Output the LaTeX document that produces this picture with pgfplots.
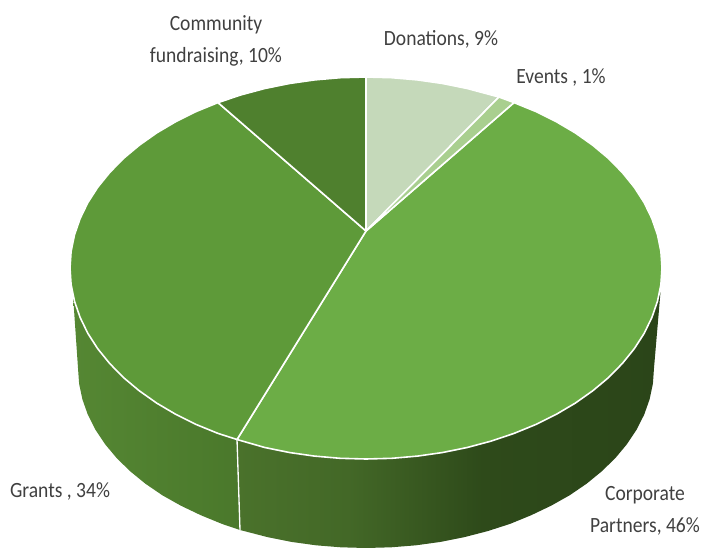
\documentclass[border=0pt]{standalone}
\usepackage{pgfplots}
\pgfplotsset{compat=1.18}
\usepackage{fontspec}
\setmainfont{Carlito}
\newfontfamily\labelfont[FakeStretch=0.90]{Carlito}
\definecolor{corpA}{HTML}{4A722B}
\definecolor{corpB}{HTML}{436827}
\definecolor{corpC}{HTML}{2E4A1A}
\definecolor{corpD}{HTML}{2B4519}
\definecolor{grantA}{HTML}{558733}
\definecolor{grantB}{HTML}{4A782B}
\definecolor{corporate}{HTML}{6CAD46}
\definecolor{grants}{HTML}{5E9A39}
\definecolor{community}{HTML}{4F802E}
\definecolor{donations}{HTML}{C5D9BA}
\definecolor{events}{HTML}{A9CF8F}
\definecolor{labelgrey}{HTML}{404040}
\pgfdeclarehorizontalshading{corpside}{100bp}{
  color(0bp)=(corpA); color(25bp)=(corpA); color(38bp)=(corpB);
  color(54bp)=(corpC); color(75bp)=(corpD); color(100bp)=(corpD)}
\pgfdeclarehorizontalshading{grantside}{100bp}{
  color(0bp)=(grantA); color(25bp)=(grantA); color(75bp)=(grantB); color(100bp)=(grantB)}
\tikzset{
  slice/.style={draw=white, line width=1.2pt, line join=round},
  lab/.style={font=\labelfont\fontsize{16.3}{18}\selectfont, text=labelgrey, align=center, inner sep=0pt},
}
\begin{document}
\begin{tikzpicture}
% Page frame: the axis itself is hidden
\path (0,0) rectangle (527.25pt,410.25pt);
\begin{axis}[
  at={(0,0)}, anchor=south west,
  scale only axis, width=527.25pt, height=410.25pt,
  xmin=0, xmax=703, ymin=0, ymax=547, y dir=reverse,
  axis lines=none, clip=true,
]
% Outer wall, Corporate Partners
\addplot[draw=none, shading=corpside] coordinates {
 (660.5,292) (657.5,301.2) (651.9,317.4) (644.2,333.3) (634.3,348.7) (622.3,363.5)
 (608.5,377.6) (592.7,390.8) (575.3,403.1) (556.3,414.3) (535.8,424.5) (514,433.4)
 (491.1,441.1) (467.2,447.5) (442.6,452.5) (417.4,456.1) (391.8,458.3) (366,459)
 (340.2,458.3) (314.6,456.1) (289.4,452.5) (264.8,447.5) (237,439.5)
 (240,530) (244.3,531.1) (267.5,537.1) (291.5,541.9) (316,545.3) (340.9,547.3) (366,548)
 (391.1,547.3) (416,545.3) (440.5,541.9) (464.5,537.1) (487.7,531.1) (510,523.9)
 (531.2,515.2) (551.1,505.7) (569.6,495.3) (586.6,483.7) (601.9,471.2) (615.4,458)
 (627,444.1) (636.6,429.6) (644.2,414.6) (649.6,399.3) (652.9,383.7) (654,368)
} -- cycle;
% Outer wall, Grants
\addplot[draw=none, shading=grantside] coordinates {
 (237,439.5) (218,433.4) (196.2,424.5) (175.7,414.3) (156.7,403.1) (139.3,390.8)
 (123.5,377.6) (109.7,363.5) (97.7,348.7) (87.8,333.3) (80.1,317.4) (74.5,301.2) (73,295)
 (78,368) (79.1,383.7) (82.4,399.3) (87.8,414.6) (95.4,429.6) (105,444.1) (116.6,458)
 (130.1,471.2) (145.4,483.7) (162.4,495.3) (180.9,505.7) (200.8,515.2) (222,523.9) (240,530)
} -- cycle;
% Wall seam between the two visible slices
\addplot[draw=white, line width=1pt] coordinates {(237,439.5) (240,530)};
% Top face: Corporate Partners, 46%
\addplot[slice, fill=corporate] coordinates {
 (366,231) (514,102.6) (535.8,111.5) (556.3,121.7) (575.3,132.9) (592.7,145.2) (608.5,158.4)
 (622.3,172.5) (634.3,187.3) (644.2,202.7) (651.9,218.6) (657.5,234.8) (660.9,251.4) (662,268)
 (660.9,284.6) (657.5,301.2) (651.9,317.4) (644.2,333.3) (634.3,348.7) (622.3,363.5)
 (608.5,377.6) (592.7,390.8) (575.3,403.1) (556.3,414.3) (535.8,424.5) (514,433.4)
 (491.1,441.1) (467.2,447.5) (442.6,452.5) (417.4,456.1) (391.8,458.3) (366,459)
 (340.2,458.3) (314.6,456.1) (289.4,452.5) (264.8,447.5) (237,439.5)
} -- cycle;
% Top face: Grants, 34%
\addplot[slice, fill=grants] coordinates {
 (366,231) (237,439.5) (218,433.4) (196.2,424.5) (175.7,414.3) (156.7,403.1) (139.3,390.8)
 (123.5,377.6) (109.7,363.5) (97.7,348.7) (87.8,333.3) (80.1,317.4) (74.5,301.2) (71.1,284.6)
 (70,268) (71.1,251.4) (74.5,234.8) (80.1,218.6) (87.8,202.7) (97.7,187.3) (109.7,172.5)
 (123.5,158.4) (139.3,145.2) (156.7,132.9) (175.7,121.7) (196.2,111.5) (218,102.6)
} -- cycle;
% Top face: Community fundraising, 10%
\addplot[slice, fill=community] coordinates {
 (366,231) (218,102.6) (240.9,94.9) (264.8,88.5) (289.4,83.5) (314.6,79.9) (340.2,77.7) (366,77)
} -- cycle;
% Top face: Donations, 9%
\addplot[slice, fill=donations] coordinates {
 (366,231) (366,77) (391.8,77.7) (417.4,79.9) (442.6,83.5) (467.2,88.5) (491.1,94.9) (499,97)
} -- cycle;
% Top face: Events, 1%
\addplot[slice, fill=events] coordinates {
 (366,231) (499,97) (514,102.6)
} -- cycle;
% Data labels
\node[lab] at (axis cs:216,41) {Community\\[6pt]fundraising, 10\%};
\node[lab] at (axis cs:441,39) {Donations, 9\%};
\node[lab] at (axis cs:561,77) {Events , 1\%};
\node[lab] at (axis cs:60,491) {Grants , 34\%};
\node[lab] at (axis cs:645,511) {Corporate\\[6pt]Partners, 46\%};
\end{axis}
\end{tikzpicture}
\end{document}
